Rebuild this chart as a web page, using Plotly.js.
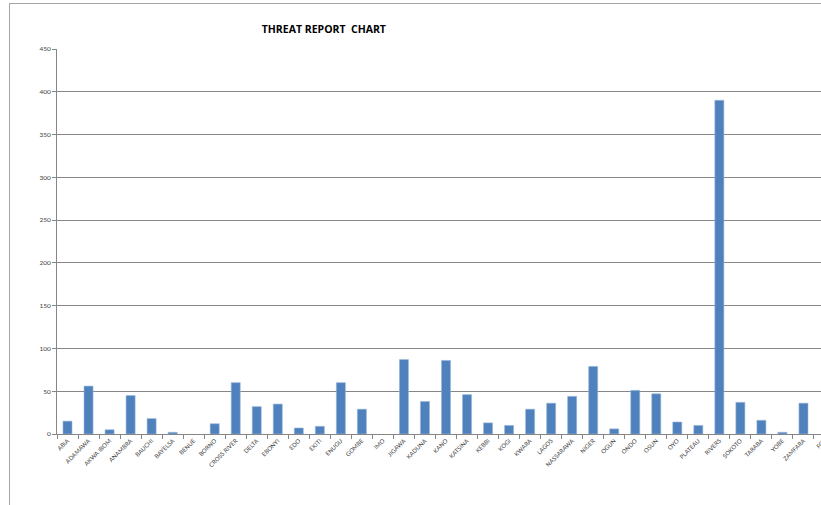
<!DOCTYPE html>
<html>
<head>
<meta charset="utf-8">
<script src="https://cdn.plot.ly/plotly-3.0.1.min.js"></script>
<style>
  html, body { margin: 0; padding: 0; background: #fff; overflow: hidden; width: 821px; height: 505px; }
  #frame { position: absolute; left: 9px; top: 3px; width: 900px; height: 600px; border-left: 1px solid #a6a6a6; border-top: 1px solid #a6a6a6; }
  #chart { position: absolute; left: 0; top: 0; width: 860px; height: 505px; }
</style>
</head>
<body>
<div id="frame"></div>
<div id="chart"></div>
<script>
const states = ["ABIA","ADAMAWA","AKWA IBOM","ANAMBRA","BAUCHI","BAYELSA","BENUE","BORNO","CROSS RIVER","DELTA","EBONYI","EDO","EKITI","ENUGU","GOMBE","IMO","JIGAWA","KADUNA","KANO","KATSINA","KEBBI","KOGI","KWARA","LAGOS","NASSARAWA","NIGER","OGUN","ONDO","OSUN","OYO","PLATEAU","RIVERS","SOKOTO","TARABA","YOBE","ZAMFARA","FCT"];
const threats = [15,56,5,45,18,2,0,12,60,32,35,7,9,60,29,0,87,38,86,46,13,10,29,36,44,79,6,51,47,14,10,390,37,16,2,36,0];
const yTicks = [0,50,100,150,200,250,300,350,400,450];

const trace = {
  type: 'bar',
  x: states,
  y: threats,
  marker: {
    color: '#4f81bd',
    line: { color: '#9bb7dc', width: threats.map(v => v > 0 ? 0.6 : 0) }
  },
  hoverinfo: 'x+y'
};

const layout = {
  width: 860,
  height: 505,
  margin: { l: 57, r: 25, t: 49, b: 71, pad: 0 },
  paper_bgcolor: 'rgba(0,0,0,0)',
  plot_bgcolor: 'rgba(0,0,0,0)',
  bargap: 0.57,
  showlegend: false,
  font: { family: 'Lato, "Open Sans", sans-serif', color: '#404040' },
  title: {
    text: '<b>THREAT REPORT&nbsp; CHART</b>',
    font: { family: '"Open Sans", Lato, sans-serif', size: 10.5, color: '#000' },
    xref: 'paper', x: 0.343, xanchor: 'center',
    yref: 'container', y: 1 - 29/505, yanchor: 'middle'
  },
  xaxis: {
    type: 'category',
    range: [-0.5, 36.5],
    tickangle: -45,
    tickfont: { size: 6, color: '#404040' },
    ticks: 'outside',
    tickson: 'boundaries',
    ticklen: 4,
    tickcolor: '#868686',
    showline: true,
    linecolor: '#868686',
    linewidth: 1,
    showgrid: false,
    zeroline: false,
    fixedrange: true
  },
  yaxis: {
    range: [0, 450],
    tickvals: yTicks,
    ticktext: yTicks.map(String),
    tickfont: { size: 6.5, color: '#404040' },
    ticks: 'outside',
    ticklen: 4,
    tickcolor: '#868686',
    showline: true,
    linecolor: '#868686',
    linewidth: 1,
    showgrid: true,
    gridcolor: '#868686',
    gridwidth: 1,
    zeroline: false,
    fixedrange: true
  }
};

Plotly.newPlot('chart', [trace], layout, { displayModeBar: false, staticPlot: true });
</script>
</body>
</html>
